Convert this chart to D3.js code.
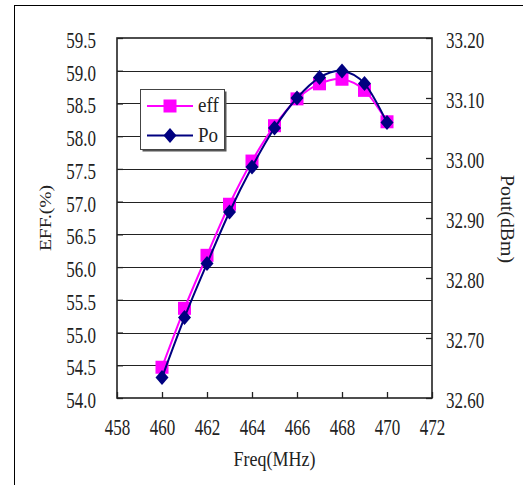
<!DOCTYPE html>
<html><head><meta charset="utf-8">
<script src="https://cdn.jsdelivr.net/npm/d3@7"></script>
<style>
html,body{margin:0;padding:0;background:#fff;}
svg{display:block;font-family:"Liberation Serif","Times New Roman",serif;}
</style></head>
<body>
<svg id="chart" width="523" height="485"></svg>
<script>
const freq = [460,461,462,463,464,465,466,467,468,469,470];
const eff  = [54.47,55.37,56.18,56.96,57.62,58.16,58.57,58.80,58.87,58.70,58.22];
const pout = [32.634,32.734,32.824,32.910,32.985,33.050,33.100,33.134,33.145,33.124,33.059];
const xTicks = [458,460,462,464,466,468,470,472];
const yLeftTicks = [54.0,54.5,55.0,55.5,56.0,56.5,57.0,57.5,58.0,58.5,59.0,59.5];
const yRightTicks = [32.6,32.7,32.8,32.9,33.0,33.1,33.2];
const seriesNames = ["eff","Po"];

const svg = d3.select("#chart");
const L=117, R=432, T=38, B=398;
const x = d3.scaleLinear([458,472],[L,R]);
const yL = d3.scaleLinear([54,59.5],[B,T]);
const yR = d3.scaleLinear([32.6,33.2],[B,T]);
const PINK="#FF00FF", NAVY="#000080";

// outer frame
svg.append("rect").attr("x",14.5).attr("y",5.5).attr("width",600).attr("height",600)
  .attr("fill","none").attr("stroke","#000").attr("stroke-width",1);

// gridlines
svg.append("g").selectAll("line").data(yLeftTicks.slice(1,-1)).join("line")
  .attr("x1",L).attr("x2",R)
  .attr("y1",d=>Math.round(yL(d))+0.5).attr("y2",d=>Math.round(yL(d))+0.5)
  .attr("stroke","#222").attr("stroke-width",1);

// axes
const TY = 1.3;
const gL = svg.append("g").attr("transform",`translate(${L},0)`)
  .call(d3.axisLeft(yL).tickValues(yLeftTicks).tickFormat(d3.format(".1f")).tickSizeInner(-6).tickSizeOuter(0).tickPadding(21));
const gR = svg.append("g").attr("transform",`translate(${R},0)`)
  .call(d3.axisRight(yR).tickValues(yRightTicks).tickFormat(d3.format(".2f")).tickSizeInner(-6).tickSizeOuter(0).tickPadding(14));
const gB = svg.append("g").attr("transform",`translate(0,${B})`)
  .call(d3.axisBottom(x).tickValues(xTicks).tickFormat(d3.format("d")).tickSizeInner(-6).tickSizeOuter(0).tickPadding(16));
[gL,gR,gB].forEach(g=>{
  g.select(".domain").remove();
  g.selectAll(".tick line").attr("stroke","#222").attr("stroke-width",1.3);
  g.selectAll("text").attr("font-family","Liberation Serif").attr("font-size",17).attr("fill","#222");
});
gL.selectAll("text").attr("dy","0.43em").attr("transform",`scale(1,${TY})`);
gR.selectAll("text").attr("dy","0.43em").attr("transform",`scale(1,${TY})`);
gB.selectAll("text").attr("y",37/TY).attr("dy","0").attr("transform",`scale(1,${TY})`);

// plot frame
svg.append("rect").attr("x",L).attr("y",T).attr("width",R-L).attr("height",B-T)
  .attr("fill","none").attr("stroke","#222").attr("stroke-width",1.6);

// axis titles
svg.append("text").attr("transform",`translate(${(L+R)/2},466) scale(1,1.15)`)
  .attr("text-anchor","middle").attr("font-size",18).attr("fill","#222").text("Freq(MHz)");
svg.append("text").attr("transform",`translate(51,218) rotate(-90) scale(1.15,1)`)
  .attr("text-anchor","middle").attr("font-size",17).attr("fill","#222").text("EFF.(%)");
svg.append("text").attr("transform",`translate(501,219) rotate(90) scale(1.1,1)`)
  .attr("text-anchor","middle").attr("font-size",18).attr("fill","#222").text("Pout(dBm)");

// lines
const curve = d3.curveCatmullRom.alpha(0);
const effLine = d3.line().x((d,i)=>x(freq[i])).y(d=>yL(d)).curve(curve);
const poLine = d3.line().x((d,i)=>x(freq[i])).y(d=>yR(d)).curve(curve);
const sq = 13, dw = 6.5, dh = 7.5;
function diamond(cx,cy){return `M${cx},${cy-dh}L${cx+dw},${cy}L${cx},${cy+dh}L${cx-dw},${cy}Z`;}

svg.append("path").datum(eff).attr("d",effLine).attr("fill","none").attr("stroke",PINK).attr("stroke-width",2);
svg.append("g").selectAll("rect").data(eff).join("rect")
  .attr("x",(d,i)=>x(freq[i])-sq/2).attr("y",d=>yL(d)-sq/2).attr("width",sq).attr("height",sq).attr("fill",PINK);
svg.append("path").datum(pout).attr("d",poLine).attr("fill","none").attr("stroke",NAVY).attr("stroke-width",2);
svg.append("g").selectAll("path").data(pout).join("path")
  .attr("d",(d,i)=>diamond(x(freq[i]),yR(d))).attr("fill",NAVY);

// legend
const lg = svg.append("g");
lg.append("rect").attr("x",142.5).attr("y",91.5).attr("width",84).attr("height",60).attr("fill","#555");
lg.append("rect").attr("x",140.5).attr("y",89.5).attr("width",84).attr("height",60)
  .attr("fill","#fff").attr("stroke","#444").attr("stroke-width",1);
const rows = [{name:seriesNames[0],y:106,c:PINK,m:"sq"},{name:seriesNames[1],y:135.5,c:NAVY,m:"di"}];
rows.forEach(r=>{
  lg.append("line").attr("x1",147).attr("x2",193).attr("y1",r.y).attr("y2",r.y).attr("stroke",r.c).attr("stroke-width",2);
  if(r.m==="sq") lg.append("rect").attr("x",170-sq/2).attr("y",r.y-sq/2).attr("width",sq).attr("height",sq).attr("fill",r.c);
  else lg.append("path").attr("d",diamond(170,r.y)).attr("fill",r.c);
  lg.append("text").attr("transform",`translate(198,${r.y+6}) scale(1,1.15)`).attr("font-size",19).attr("fill","#222").text(r.name);
});
</script>
</body></html>
